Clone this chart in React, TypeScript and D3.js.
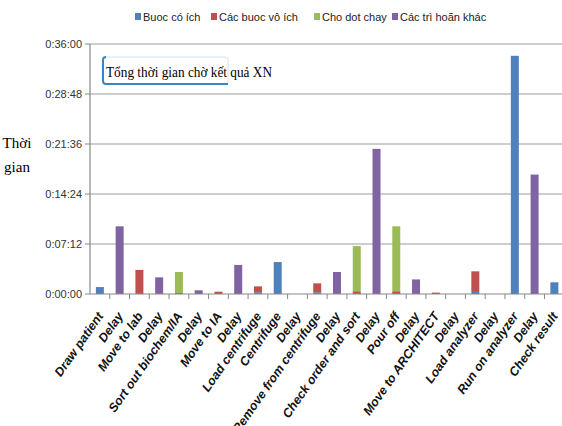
import React from "react";
import * as d3 from "d3";

const categories = [
  "Draw patient", "Delay", "Move to lab", "Delay", "Sort out biochem/IA", "Delay",
  "Move to IA", "Delay", "Load centrifuge", "Centrifuge", "Delay", "Remove from centrifuge",
  "Delay", "Check order and sort", "Delay", "Pour off", "Delay", "Move to ARCHITECT",
  "Delay", "Load analyzer", "Delay", "Run on analyzer", "Delay", "Check result",
];

// values in seconds
const buocCoIch = [60, 0, 0, 0, 0, 0, 0, 0, 15, 276, 0, 15, 0, 0, 0, 0, 0, 0, 0, 26, 0, 2058, 0, 101];
const cacBuocVoIch = [0, 0, 208, 0, 9, 0, 20, 0, 51, 0, 0, 77, 0, 24, 0, 24, 0, 12, 0, 170, 0, 0, 0, 0];
const choDotChay = [0, 0, 0, 0, 181, 0, 0, 0, 0, 0, 0, 0, 0, 390, 0, 561, 0, 0, 0, 0, 0, 0, 0, 0];
const cacTriHoanKhac = [0, 585, 0, 144, 0, 32, 0, 251, 0, 0, 0, 0, 190, 0, 1254, 0, 126, 0, 0, 0, 0, 0, 1032, 0];

const seriesNames = ["Buoc có ích", "Các buoc vô ích", "Cho dot chay", "Các trì hoãn khác"];
const seriesColors = ["#4F81BD", "#C0504D", "#9BBB59", "#8064A2"];
const yTicks = [0, 432, 864, 1296, 1728, 2160];

const W = 562, H = 426;
const left = 90, top = 44, bottom = 294;
const band = 19.76;

function fmt(s: number) {
  const h = Math.floor(s / 3600);
  const m = Math.floor((s % 3600) / 60);
  const sec = s % 60;
  return `${h}:${String(m).padStart(2, "0")}:${String(sec).padStart(2, "0")}`;
}

export default function App() {
  const x = d3.scaleBand<number>()
    .domain(categories.map((_, i) => i))
    .range([left, left + band * categories.length])
    .paddingInner(0.6)
    .paddingOuter(0.3);
  const y = d3.scaleLinear().domain([0, 2160]).range([bottom, top]);

  const rows = categories.map((c, i) => ({
    i,
    s0: buocCoIch[i], s1: cacBuocVoIch[i], s2: choDotChay[i], s3: cacTriHoanKhac[i],
  }));
  const stack = d3.stack<any>().keys(["s0", "s1", "s2", "s3"])(rows);
  const bw = 8;

  const legendX = [135, 211, 314, 392];

  return (
    <svg width={W} height={H} style={{ position: "absolute", left: 0, top: 0, background: "#fff" }}
      fontFamily="'Liberation Sans', Arial, sans-serif">
      <rect x={0} y={0} width={W} height={H} fill="#fff" />
      {/* legend */}
      {seriesNames.map((n, k) => (
        <g key={n}>
          <rect x={legendX[k]} y={13} width={6} height={7} fill={seriesColors[k]} />
          <text x={legendX[k] + 8} y={20.5} fontSize={11} fill="#222">{n}</text>
        </g>
      ))}
      {/* gridlines */}
      {yTicks.map((t) => (
        <g key={t}>
          {t > 0 && <line x1={left} x2={W} y1={y(t)} y2={y(t)} stroke="#bdbdbd" strokeWidth={1.3} />}
          <line x1={left - 5} x2={left} y1={y(t)} y2={y(t)} stroke="#888" />
          <text x={82} y={y(t) + 4} fontSize={11} textAnchor="end" fill="#333">{fmt(t)}</text>
        </g>
      ))}
      {/* title box */}
      <rect x={103} y={57} width={125} height={27} rx={3} fill="#fff" stroke="#cfe3f2" strokeWidth={1} />
      <path d="M106,57 Q103,57 103,60 L103,81 Q103,84 106,84 L228,84" fill="none" stroke="#3a86c4" strokeWidth={2} />
      <text x={106} y={77} fontSize={14} textLength={166} lengthAdjust="spacingAndGlyphs"
        fontFamily="'Liberation Serif', 'Times New Roman', serif" fill="#000">Tổng thời gian chờ kết quả XN</text>
      {/* y label */}
      <text x={17} y={148} fontSize={15} textAnchor="middle" fontFamily="'Liberation Serif', 'Times New Roman', serif">Thời</text>
      <text x={17} y={172} fontSize={15} textAnchor="middle" fontFamily="'Liberation Serif', 'Times New Roman', serif">gian</text>
      {/* bars */}
      {stack.map((layer, k) => (
        <g key={k} fill={seriesColors[k]}>
          {layer.map((d, i) => {
            const h = y(d[0]) - y(d[1]);
            if (h <= 0) return null;
            const cx = (x(i) as number) + x.bandwidth() / 2;
            return <rect key={i} x={cx - bw / 2} y={y(d[1])} width={bw} height={h} />;
          })}
        </g>
      ))}
      {/* axes */}
      <line x1={left} x2={left} y1={top} y2={bottom} stroke="#888" strokeWidth={1.2} />
      <line x1={left} x2={W} y1={bottom} y2={bottom} stroke="#888" strokeWidth={1.2} />
      {categories.map((c, i) => (
        <line key={"t" + i} x1={left + band * (i + 1)} x2={left + band * (i + 1)} y1={bottom} y2={bottom + 5} stroke="#888" />
      ))}
      {categories.map((c, i) => {
        const cx = (x(i) as number) + x.bandwidth() / 2 + 4;
        return (
          <text key={"l" + i} transform={`translate(${cx},${bottom + 22}) rotate(-55)`} textAnchor="end"
            fontSize={12.5} fontWeight="bold" fontStyle="italic" fill="#111">{c}</text>
        );
      })}
    </svg>
  );
}
